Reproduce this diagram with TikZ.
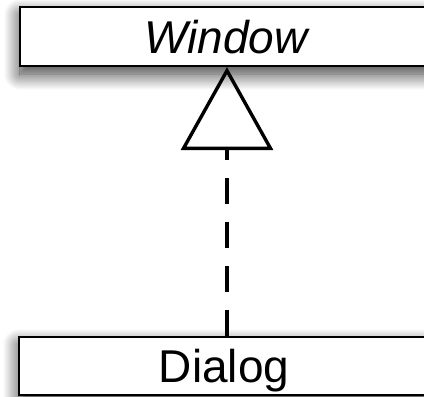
\documentclass[tikz,border=0pt]{standalone}
\usepackage{fontspec}
\setmainfont{Liberation Sans}
\usetikzlibrary{arrows.meta, shadows.blur}

\begin{document}
\begin{tikzpicture}[
    x=1pt, y=-1pt,
    classbox/.style={draw, fill=white, line width=2.2pt, inner sep=0pt,
                     text depth=0pt, font=\fontsize{46}{55}\selectfont,
                     blur shadow={shadow xshift=0pt, shadow yshift=-8pt,
                                  shadow blur radius=16pt, shadow blur steps=20,
                                  shadow opacity=80}},
    realizes/.style={line width=3.4pt, dash pattern=on 26pt off 18pt,
                     -{Triangle[open, length=83pt, width=92pt, line width=3.4pt]}},
]
    % visible area
    \path[use as bounding box, clip] (0,0) rectangle (424,397);

    % Classes
    \node[classbox, minimum width=414pt, minimum height=59pt] (window) at (227,36.5) {\textit{Window}};
    \node[classbox, minimum width=410pt, minimum height=58pt] (dialog) at (224,366) {Dialog};

    % Dialog implements Window
    \draw[realizes] (dialog.north -| window.south) -- (window.south);
\end{tikzpicture}
\end{document}
